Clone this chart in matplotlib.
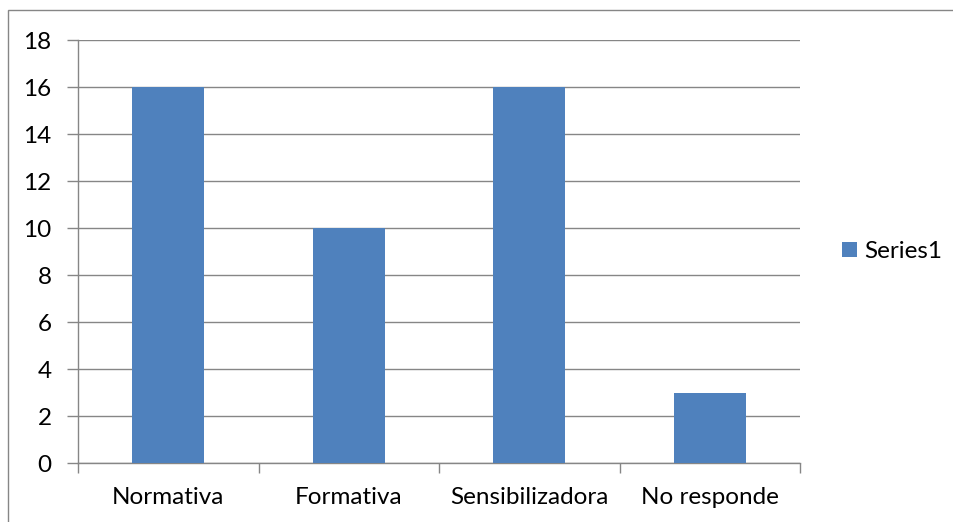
import matplotlib.pyplot as plt
from matplotlib.patches import Rectangle

categorias = ["Normativa", "Formativa", "Sensibilizadora", "No responde"]
valores = [16, 10, 16, 3]
serie = "Series1"

plt.rcParams['font.family'] = ['Lato', 'DejaVu Sans']
fs = 17.5

fig = plt.figure(figsize=(9.54, 5.22), dpi=100)
ax = fig.add_axes([0.0818, 0.113, 0.7568, 0.8103])

x = range(len(categorias))
ax.bar(x, valores, width=0.4, color='#4F81BD', label=serie, zorder=3)

ax.set_xlim(-0.5, len(categorias) - 0.5)
ax.set_ylim(0, 18)
ax.set_yticks(range(0, 19, 2))
ax.yaxis.grid(True, color='#868686', linewidth=1.0, zorder=0)

# ticks del eje x entre categorias
ax.set_xticks([i - 0.5 for i in range(len(categorias) + 1)])
ax.set_xticklabels([])
ax.set_xticks(list(x), minor=True)
ax.set_xticklabels(categorias, minor=True)
ax.tick_params(axis='x', which='major', length=7, color='#868686', width=1.0, direction='out')
ax.tick_params(axis='x', which='minor', length=0, pad=17, labelsize=fs)
ax.tick_params(axis='y', length=8, color='#868686', width=1.0, pad=11, labelsize=fs)

for s in ['top', 'right']:
    ax.spines[s].set_visible(False)
for s in ['left', 'bottom']:
    ax.spines[s].set_color('#868686')
    ax.spines[s].set_linewidth(1.0)

ax.legend(loc='center left', bbox_to_anchor=(1.028, 0.5), frameon=False,
          fontsize=fs, handlelength=0.62, handleheight=0.62, handletextpad=0.3)

# marco exterior
fig.patches.append(Rectangle((8 / 954, -0.05), 1.1, 1 - 10 / 522 + 0.05,
                             transform=fig.transFigure, fill=False,
                             edgecolor='#868686', linewidth=1.0))

fig.savefig('out.png', dpi=100)
